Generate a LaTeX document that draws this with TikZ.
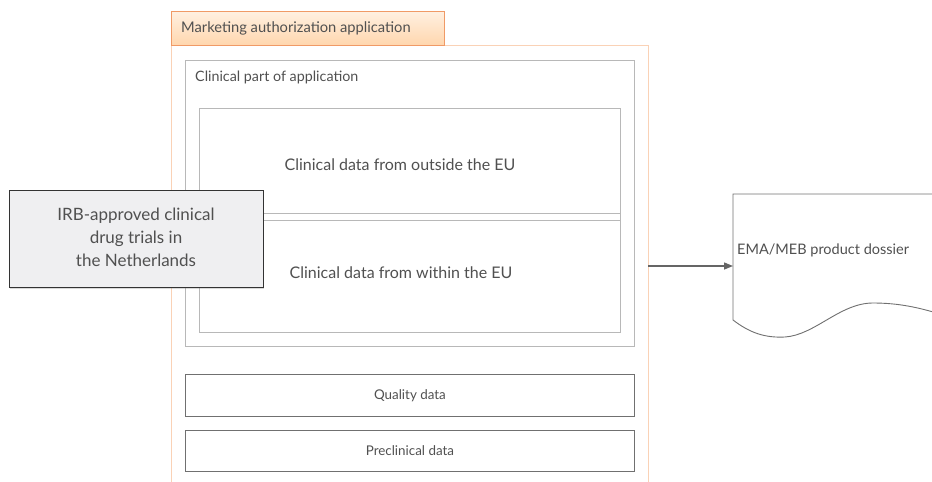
\documentclass[tikz,border=0pt]{standalone}
\usepackage{fontspec}
\setmainfont{Lato}
\usetikzlibrary{arrows.meta,shadows}
\definecolor{txt}{HTML}{505050}
\definecolor{boxgray}{HTML}{B8B8B8}
\definecolor{darkgray}{HTML}{707070}
\definecolor{peachline}{HTML}{FAD2B6}
\definecolor{orangeline}{HTML}{F09A66}
\definecolor{irbfill}{HTML}{EFEFF1}
\tikzset{
  every node/.style={text=txt, inner sep=0pt},
  graybox/.style={draw=boxgray, line width=0.9pt},
  databox/.style={draw=darkgray, line width=0.9pt},
}
\begin{document}
\begin{tikzpicture}[x=1pt,y=-1pt]
\useasboundingbox (0,0) rectangle (932,482);
% outer application frame
\draw[peachline, line width=1pt] (171,482) -- (171,45) -- (648,45) -- (648,482);
% title tab
\node[draw=orangeline, line width=1pt, top color=orange!12, bottom color=orange!32,
      minimum width=273pt, minimum height=34pt, anchor=north west] (tab) at (171,11) {};
\node[anchor=west, font=\fontsize{14.7}{17}\selectfont] (tabtxt) at (181,28) {Marketing authorization application};
% clinical part
\draw[graybox] (185,60) rectangle (634,346);
\node[anchor=west, font=\fontsize{14.3}{17}\selectfont] (cptxt) at (195,77) {Clinical part of application};
% outside / within EU boxes
\draw[graybox] (199,108) rectangle (620,220);
\draw[graybox] (199,213) rectangle (620,332);
\node[font=\fontsize{16}{19}\selectfont] (outside) at (400,165) {Clinical data from outside the EU};
\node[font=\fontsize{16}{19}\selectfont] (within) at (401,273) {Clinical data from within the EU};
% quality and preclinical
\node[databox, minimum width=449pt, minimum height=42pt, anchor=north west] (qual) at (185,374) {};
\node[font=\fontsize{13.4}{16}\selectfont] at (qual.center) {Quality data};
\node[databox, minimum width=449pt, minimum height=41pt, anchor=north west] (pre) at (185,430) {};
\node[font=\fontsize{13.4}{16}\selectfont] at (pre.center) {Preclinical data};
% IRB box
\node[draw=black!80, line width=0.9pt, fill=irbfill,
      drop shadow={shadow xshift=1pt, shadow yshift=-1.5pt, opacity=0.3},
      minimum width=254pt, minimum height=97pt, anchor=north west] (irb) at (9,190) {};
\node[align=center, font=\fontsize{17}{23}\selectfont] at (136,237) {IRB-approved clinical\\drug trials in\\the Netherlands};
% product dossier
\draw[darkgray, line width=0.9pt, fill=white] (940,194) -- (733,194) -- (733,320)
   .. controls (750,333) and (765,338) .. (785,337)
   .. controls (815,335) and (840,303) .. (873,303)
   .. controls (900,303) and (920,308) .. (940,314);
\coordinate (doc) at (733,266);
\coordinate (appR) at (648,266);
\node[anchor=west, font=\fontsize{14.5}{17}\selectfont] (dossier) at (737,250) {EMA/MEB product dossier};
\draw[darkgray!90!black, line width=1.4pt, -{Triangle[length=9pt,width=7pt]}] (appR) -- (doc);
\end{tikzpicture}
\end{document}
